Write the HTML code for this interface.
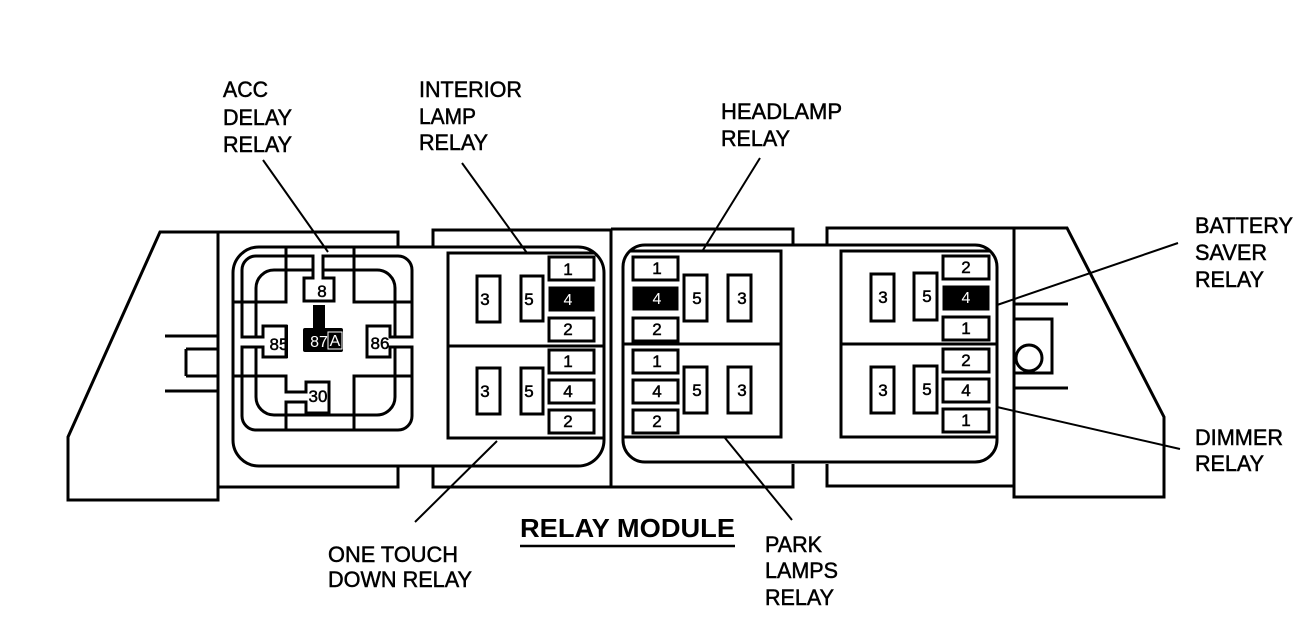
<!DOCTYPE html>
<html><head><meta charset="utf-8"><style>
html,body{margin:0;padding:0;background:#fff}
svg{display:block}
text{font-family:"Liberation Sans",sans-serif;fill:#000}
.l{font-size:22px;stroke:#000;stroke-width:.5px}
.p{font-size:17px;text-anchor:middle;stroke:#000;stroke-width:.5px}
.w{fill:#fff;stroke:none;font-size:16px;text-anchor:middle}
.s{fill:#fff;stroke:#000;stroke-width:3}
.n{fill:none;stroke:#000;stroke-width:3}
.t{fill:none;stroke:#000;stroke-width:2}
.k{fill:#000;stroke:#000;stroke-width:1}
</style></head><body>
<svg width="1310" height="624" viewBox="0 0 1310 624" xmlns="http://www.w3.org/2000/svg">
<rect width="1310" height="624" fill="#fff"/>
<!-- housing -->
<path class="n" d="M218 232H398V247M433 247V230H611M611 229H793V245M611 229V487M218 487H398V466M433 466V487H793V464M827 245V228H1014M827 464V486H1014"/>
<path class="n" d="M218 232H160L68 437V500H218Z"/>
<path class="n" d="M165 336H218M186 349H218M186 376H218M186 349V376M165 391H218"/>
<path class="n" d="M1014 228H1067L1164 417V497H1014Z"/>
<path class="n" d="M1014 304H1068M1014 388H1068M1014 319H1052V373H1014"/>
<circle class="n" cx="1029" cy="358" r="13"/>
<!-- rounded modules -->
<rect class="n" x="233" y="247" width="371" height="219" rx="26"/>
<rect class="n" x="623" y="245" width="374" height="217" rx="22"/>
<!-- connector block -->
<rect class="n" x="242" y="256" width="170" height="174" rx="14"/>
<rect class="n" x="256" y="270" width="139" height="145" rx="18"/>
<path class="n" d="M286 247V302H233M354 247V302H412M233 376H286V430M412 376H354V430"/>
<!-- pin 8 -->
<path class="s" d="M313 256H323V278H334V301H304V278H313Z"/>
<path d="M314.500 253h7v6h-7z" fill="#fff"/>
<text class="p" x="322" y="297">8</text>
<!-- pin 85 -->
<path class="s" d="M242 337H263V326H286V357H263V347H242Z"/>
<path d="M240 338.500h6v7h-6z" fill="#fff"/>
<text class="p" x="279" y="350">85</text>
<rect x="285" y="325" width="3" height="33" fill="#000"/>
<!-- pin 86 -->
<path class="s" d="M412 337H390V326H367V357H390V347H412Z"/>
<path d="M408 338.500h6v7h-6z" fill="#fff"/>
<text class="p" x="380" y="349">86</text>
<!-- pin 30 -->
<path class="s" d="M286 392H306V382H329V413H306V402H286Z"/>
<path d="M284 393.500h6v7h-6z" fill="#fff"/>
<text class="p" x="318" y="402">30</text>
<!-- pin 87A -->
<rect x="313" y="305" width="12" height="24" fill="#000"/>
<rect x="303" y="328" width="40" height="24" rx="2" fill="#000"/>
<text class="w" x="319" y="347">87</text>
<rect x="328" y="332" width="14" height="17" fill="none" stroke="#fff" stroke-width="1"/>
<text class="w" x="335" y="346">A</text>
<!-- left relays -->
<path class="n" d="M595 253H448V438H603M448 346H603"/>
<rect class="s" x="477" y="276" width="23" height="46"/><text class="p" x="485" y="305">3</text>
<rect class="s" x="521" y="276" width="22" height="45"/><text class="p" x="529" y="305">5</text>
<rect class="s" x="549" y="257" width="45" height="23"/><text class="p" x="568" y="275">1</text>
<rect class="k" x="549" y="287" width="45" height="24"/><text class="w" x="568" y="305">4</text>
<rect class="s" x="549" y="318" width="45" height="23"/><text class="p" x="568" y="335">2</text>
<rect class="s" x="477" y="368" width="23" height="46"/><text class="p" x="485" y="397">3</text>
<rect class="s" x="521" y="368" width="22" height="46"/><text class="p" x="529" y="397">5</text>
<rect class="s" x="549" y="350" width="45" height="23"/><text class="p" x="568" y="367">1</text>
<rect class="s" x="549" y="380" width="45" height="23"/><text class="p" x="568" y="397">4</text>
<rect class="s" x="549" y="410" width="45" height="23"/><text class="p" x="568" y="427">2</text>
<!-- middle relays -->
<path class="n" d="M630 251H781V437H623M623 344H781"/>
<rect class="s" x="633" y="257" width="45" height="23"/><text class="p" x="657" y="274">1</text>
<rect class="k" x="633" y="287" width="45" height="23"/><text class="w" x="657" y="304">4</text>
<rect class="s" x="633" y="318" width="45" height="23"/><text class="p" x="657" y="335">2</text>
<rect class="s" x="684" y="275" width="23" height="46"/><text class="p" x="697" y="304">5</text>
<rect class="s" x="728" y="275" width="23" height="46"/><text class="p" x="742" y="304">3</text>
<rect class="s" x="633" y="350" width="45" height="23"/><text class="p" x="657" y="367">1</text>
<rect class="s" x="633" y="380" width="45" height="23"/><text class="p" x="657" y="397">4</text>
<rect class="s" x="633" y="410" width="45" height="23"/><text class="p" x="657" y="427">2</text>
<rect class="s" x="684" y="367" width="23" height="46"/><text class="p" x="697" y="396">5</text>
<rect class="s" x="728" y="367" width="23" height="46"/><text class="p" x="742" y="396">3</text>
<!-- right relays -->
<path class="n" d="M990 251H841V437H997M841 344H997"/>
<rect class="s" x="871" y="274" width="23" height="47"/><text class="p" x="883" y="303">3</text>
<rect class="s" x="914" y="273" width="23" height="47"/><text class="p" x="927" y="302">5</text>
<rect class="s" x="943" y="256" width="46" height="23"/><text class="p" x="966" y="273">2</text>
<rect class="k" x="943" y="286" width="46" height="24"/><text class="w" x="966" y="303">4</text>
<rect class="s" x="943" y="317" width="46" height="23"/><text class="p" x="966" y="334">1</text>
<rect class="s" x="871" y="367" width="23" height="46"/><text class="p" x="883" y="396">3</text>
<rect class="s" x="914" y="366" width="23" height="47"/><text class="p" x="927" y="395">5</text>
<rect class="s" x="943" y="349" width="46" height="23"/><text class="p" x="966" y="366">2</text>
<rect class="s" x="943" y="379" width="46" height="23"/><text class="p" x="966" y="396">4</text>
<rect class="s" x="943" y="409" width="46" height="23"/><text class="p" x="966" y="426">1</text>
<!-- leaders -->
<path class="t" d="M263 160L328 252M462 163L527 253M760 158L703 250M1178 243L997 305M997 407L1180 449M497 441L415 522M725 438L792 520"/>
<path d="M520 546H735" stroke="#000" stroke-width="2.500" fill="none"/>
<!-- labels -->
<text class="l" x="223" y="97" textLength="45" lengthAdjust="spacingAndGlyphs">ACC</text>
<text class="l" x="223" y="125" textLength="69" lengthAdjust="spacingAndGlyphs">DELAY</text>
<text class="l" x="223" y="152" textLength="69" lengthAdjust="spacingAndGlyphs">RELAY</text>
<text class="l" x="419" y="97" textLength="103" lengthAdjust="spacingAndGlyphs">INTERIOR</text>
<text class="l" x="419" y="124" textLength="57" lengthAdjust="spacingAndGlyphs">LAMP</text>
<text class="l" x="419" y="150" textLength="69" lengthAdjust="spacingAndGlyphs">RELAY</text>
<text class="l" x="721" y="119" textLength="121" lengthAdjust="spacingAndGlyphs">HEADLAMP</text>
<text class="l" x="721" y="146" textLength="69" lengthAdjust="spacingAndGlyphs">RELAY</text>
<text class="l" x="1195" y="233" textLength="98" lengthAdjust="spacingAndGlyphs">BATTERY</text>
<text class="l" x="1195" y="260" textLength="72" lengthAdjust="spacingAndGlyphs">SAVER</text>
<text class="l" x="1195" y="287" textLength="69" lengthAdjust="spacingAndGlyphs">RELAY</text>
<text class="l" x="1195" y="445" textLength="88" lengthAdjust="spacingAndGlyphs">DIMMER</text>
<text class="l" x="1195" y="471" textLength="69" lengthAdjust="spacingAndGlyphs">RELAY</text>
<text class="l" x="328" y="562" textLength="130" lengthAdjust="spacingAndGlyphs">ONE TOUCH</text>
<text class="l" x="328" y="587" textLength="144" lengthAdjust="spacingAndGlyphs">DOWN RELAY</text>
<text class="l" x="765" y="552" textLength="57" lengthAdjust="spacingAndGlyphs">PARK</text>
<text class="l" x="765" y="578" textLength="73" lengthAdjust="spacingAndGlyphs">LAMPS</text>
<text class="l" x="765" y="605" textLength="69" lengthAdjust="spacingAndGlyphs">RELAY</text>
<text x="520" y="537" font-size="26" font-weight="bold" textLength="215" lengthAdjust="spacingAndGlyphs">RELAY MODULE</text>
</svg>
</body></html>
